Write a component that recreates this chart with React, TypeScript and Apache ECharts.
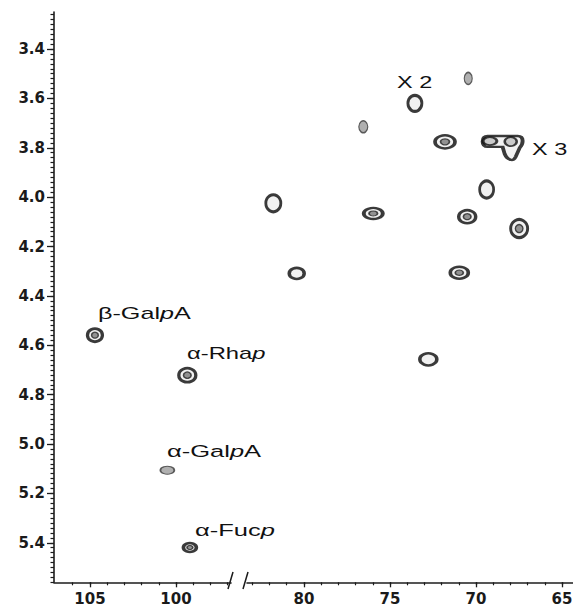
import React, { useEffect, useRef } from 'react';
import * as echarts from 'echarts';

// ---- axis tick labels ----
const xTickLabelsLeft = [105, 100];
const xTickLabelsRight = [80, 75, 70, 65];
const yTickLabels = [3.4, 3.6, 3.8, 4.0, 4.2, 4.4, 4.6, 4.8, 5.0, 5.2, 5.4];

// ---- cross peaks: 13C shift (ppm) and 1H shift (ppm) ----
const peakC = [104.71, 99.34, 100.5, 99.19, 70.45, 73.55, 76.55, 71.8, 69.19, 67.98, 69.38, 70.51, 67.49, 70.97, 81.78, 75.97, 80.42, 72.77];
const peakH = [4.559, 4.721, 5.106, 5.419, 3.519, 3.62, 3.715, 3.776, 3.773, 3.775, 3.969, 4.079, 4.127, 4.306, 4.025, 4.066, 4.309, 4.657];
// overlapping X3 envelope
const envelopeC = [68.45];
const envelopeH = [3.801];

// ---- styles (not data) ----
const peakSize = [[15, 13], [17, 14], [14, 8], [13, 9], [8, 12], [14, 16], [9, 12], [20, 13], [14, 8], [12, 9], [14, 17], [17, 13], [17, 18], [18, 12], [15, 17], [19, 11], [15, 11], [17, 12]];
const peakKind = ['double', 'double', 'faint', 'double', 'faint', 'ring', 'faint', 'double', 'member', 'member', 'ring', 'double', 'double', 'double', 'ring', 'double', 'ring', 'ring'];

const X_LEFT: [number, number] = [96.8, 107.09];
const X_RIGHT: [number, number] = [64.36, 83.31];
const Y_RANGE: [number, number] = [3.25, 5.56];

function steps(from: number, to: number, step: number, dec: number) {
  const out: number[] = [];
  const n = Math.round((to - from) / step);
  for (let i = 0; i <= n; i++) out.push(+(from + i * step).toFixed(dec));
  return out;
}

const AX = '#1c1c1c';
const labelFont = { fontSize: 15, fontWeight: 'bold' as const, fontFamily: 'DejaVu Sans', color: '#1a1a1a' };

function outerStyle(kind: string) {
  if (kind === 'faint') return { color: '#9c9c9c', borderColor: '#3a3a3a', borderWidth: 1.3 };
  if (kind === 'member') return { color: '#bfbfbf', borderColor: '#111', borderWidth: 2.2 };
  return { color: '#ededed', borderColor: '#0a0a0a', borderWidth: 3 };
}

function buildSeries(left: boolean) {
  const xi = left ? 0 : 2;
  const yi = left ? 0 : 2;
  const idx = peakC.map((_, i) => i).filter((i) => (left ? peakC[i] > 90 : peakC[i] < 90));
  const outer = idx.map((i) => ({
    value: [peakC[i], peakH[i]],
    symbolSize: peakSize[i],
    itemStyle: outerStyle(peakKind[i]),
  }));
  const inner = idx
    .filter((i) => peakKind[i] === 'double')
    .map((i) => ({
      value: [peakC[i], peakH[i]],
      symbolSize: [peakSize[i][0] * 0.45, peakSize[i][1] * 0.45],
      itemStyle: { color: '#7a7a7a', borderColor: '#222', borderWidth: 1.4 },
    }));
  const s: any[] = [
    { type: 'scatter', xAxisIndex: xi, yAxisIndex: yi, symbol: 'circle', data: outer, z: 3, silent: true },
    { type: 'scatter', xAxisIndex: xi, yAxisIndex: yi, symbol: 'circle', data: inner, z: 4, silent: true },
  ];
  if (!left) {
    s.push({
      type: 'scatter',
      xAxisIndex: xi,
      yAxisIndex: yi,
      symbol: 'path://M5,0 L35,0 Q40,0 40,5 Q40,9 37,12 L33,21 Q31,25 28,24 Q24,23 22,18 L20,11 L5,11 Q0,11 0,5.5 Q0,0 5,0 Z',
      symbolSize: [40, 24],
      itemStyle: { color: '#efefef', borderColor: '#0a0a0a', borderWidth: 3 },
      data: envelopeC.map((c, i) => [c, envelopeH[i]]),
      z: 2,
      silent: true,
    });
  }
  return s;
}

function xAxes(range: [number, number], grid: number, majors: number[], minors: number[]) {
  return [
    {
      gridIndex: grid, type: 'value', min: range[0], max: range[1], inverse: true, position: 'bottom',
      axisLine: { show: true, onZero: false, lineStyle: { color: AX, width: 1.6 } },
      axisTick: { show: true, customValues: majors, length: 5, lineStyle: { color: AX, width: 1.3 } },
      axisLabel: { show: true, customValues: majors, margin: 9, ...labelFont, formatter: (v: number) => String(v) },
      splitLine: { show: false },
    },
    {
      gridIndex: grid, type: 'value', min: range[0], max: range[1], inverse: true, position: 'bottom',
      axisLine: { show: false, onZero: false },
      axisTick: { show: true, customValues: minors, length: 3, lineStyle: { color: AX, width: 1.2 } },
      axisLabel: { show: false },
      splitLine: { show: false },
    },
  ];
}

const richStyle = (size: number) => ({
  n: { fontSize: size, fontFamily: 'Liberation Sans', fill: '#111' },
  i: { fontSize: size, fontFamily: 'Liberation Sans', fontStyle: 'italic', fill: '#111' },
});

function annot(text: string, x: number, y: number, sx: number) {
  return {
    type: 'text', x, y, scaleX: sx, silent: true, z: 10,
    style: { text, rich: richStyle(17), fontSize: 17, fontFamily: 'Liberation Sans', fill: '#111', verticalAlign: 'middle' },
  };
}

export default function App() {
  const ref = useRef<HTMLDivElement>(null);
  useEffect(() => {
    if (!ref.current) return;
    const chart = echarts.init(ref.current, undefined, { renderer: 'svg' });
    const option: any = {
      animation: false,
      backgroundColor: '#ffffff',
      grid: [
        { left: 54, top: 12, width: 177, bottom: 26.7, containLabel: false, outerBoundsMode: 'none' },
        { left: 247, top: 12, width: 326, bottom: 26.7, containLabel: false, outerBoundsMode: 'none' },
      ],
      xAxis: [
        ...xAxes(X_LEFT, 0, xTickLabelsLeft, steps(97, 106, 1, 0)),
        ...xAxes(X_RIGHT, 1, xTickLabelsRight, steps(65, 83, 1, 0)),
      ],
      yAxis: [
        {
          gridIndex: 0, type: 'value', min: Y_RANGE[0], max: Y_RANGE[1], inverse: true, position: 'left',
          axisLine: { show: true, onZero: false, lineStyle: { color: AX, width: 1.6 } },
          axisTick: { show: true, customValues: yTickLabels, length: 7, lineStyle: { color: AX, width: 1.3 } },
          axisLabel: { show: true, customValues: yTickLabels, margin: 9, ...labelFont, formatter: (v: number) => v.toFixed(1) },
          splitLine: { show: false },
        },
        {
          gridIndex: 0, type: 'value', min: Y_RANGE[0], max: Y_RANGE[1], inverse: true, position: 'left',
          axisLine: { show: false, onZero: false },
          axisTick: { show: true, customValues: steps(3.26, 5.56, 0.02, 2), length: 3.5, lineStyle: { color: AX, width: 1.2 } },
          axisLabel: { show: false },
          splitLine: { show: false },
        },
        { gridIndex: 1, type: 'value', min: Y_RANGE[0], max: Y_RANGE[1], inverse: true, show: false },
      ],
      series: [...buildSeries(true), ...buildSeries(false)],
      graphic: [
        { type: 'line', shape: { x1: 228, y1: 589, x2: 233, y2: 572 }, style: { stroke: AX, lineWidth: 1.5 }, silent: true },
        { type: 'line', shape: { x1: 243, y1: 589, x2: 248, y2: 572 }, style: { stroke: AX, lineWidth: 1.5 }, silent: true },
        annot('{n|β-Gal}{i|p}{n|A}', 98, 313, 1.48),
        annot('{n|α-Rha}{i|p}', 187, 353, 1.4),
        annot('{n|α-Gal}{i|p}{n|A}', 167, 451, 1.5),
        annot('{n|α-Fuc}{i|p}', 195, 530, 1.5),
        annot('{n|X 2}', 397, 82, 1.38),
        annot('{n|X 3}', 532, 149, 1.38),
      ],
    };
    chart.setOption(option);
    return () => chart.dispose();
  }, []);
  return <div ref={ref} style={{ position: 'absolute', left: 0, top: 0, width: 573, height: 609 }} />;
}
